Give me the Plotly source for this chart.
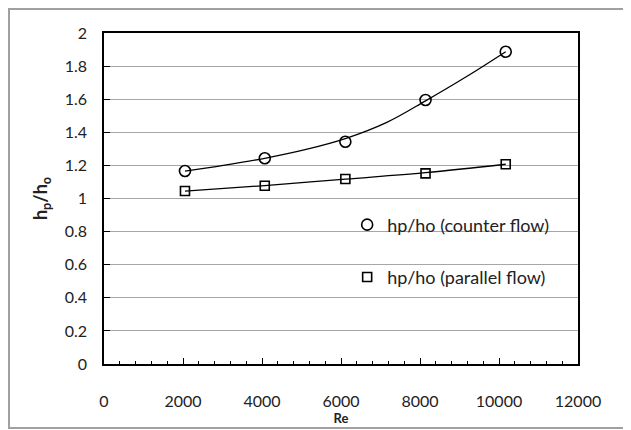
import plotly.graph_objects as go

# measured points
re_vals = [2050, 4070, 6110, 8140, 10170]
counter_flow = [1.166, 1.243, 1.343, 1.595, 1.887]
parallel_flow = [1.045, 1.077, 1.118, 1.152, 1.207]
counter_name = "hp/ho (counter flow)"
parallel_name = "hp/ho (parallel flow)"

# trend lines
counter_trend_re = [2050, 3020, 4070, 5090, 6110, 7160, 8140, 9180, 10170]
counter_trend = [1.166, 1.200, 1.243, 1.295, 1.362, 1.460, 1.590, 1.737, 1.887]
parallel_trend_re = [2050, 4070, 6110, 8140, 10170]
parallel_trend = [1.045, 1.078, 1.117, 1.156, 1.207]

FONT = "Lato"
# page body adds an 8px offset; compensate so the plot lands where the reference has it
OFF = 8
L, T, PW, PH = 104 - OFF, 33 - OFF, 474, 331
W, H = 631 - OFF, 430 - OFF

fig = go.Figure()

fig.add_trace(go.Scatter(x=counter_trend_re, y=counter_trend, mode="lines",
                         line=dict(color="black", width=1.3, shape="spline", smoothing=1.0),
                         showlegend=False, hoverinfo="skip"))
fig.add_trace(go.Scatter(x=parallel_trend_re, y=parallel_trend, mode="lines",
                         line=dict(color="black", width=1.3, shape="spline", smoothing=1.0),
                         showlegend=False, hoverinfo="skip"))

fig.add_trace(go.Scatter(x=re_vals, y=counter_flow, mode="markers", name=counter_name, legendgroup="a",
                         marker=dict(symbol="circle-open", size=11, color="black", line=dict(width=1.6))))
fig.add_trace(go.Scatter(x=re_vals, y=parallel_flow, mode="markers", name=parallel_name, legendgroup="b",
                         marker=dict(symbol="square-open", size=9, color="black", line=dict(width=1.6))))

fig.update_layout(
    width=W, height=H,
    margin=dict(l=L, r=W - L - PW, t=T, b=H - T - PH, autoexpand=False),
    paper_bgcolor="white", plot_bgcolor="white",
    font=dict(family=FONT, size=16, color="#222"),
    showlegend=True,
    legend=dict(x=0.513, xanchor="left", y=0.476, yanchor="top", bgcolor="rgba(0,0,0,0)",
                font=dict(family=FONT, size=18, color="#222"), tracegroupgap=26, itemwidth=30,
                traceorder="grouped"),
    xaxis=dict(range=[0, 12000], dtick=2000, tick0=0, tickformat="d", automargin=False,
               showgrid=False, zeroline=False,
               showline=True, linecolor="black", linewidth=1.5, mirror=True,
               ticks="inside", ticklen=6, tickwidth=1.3, tickcolor="black",
               minor=dict(dtick=400, ticks="inside", ticklen=3, tickwidth=1.3, tickcolor="black", showgrid=False),
               ticklabelstandoff=22,
               title=dict(text="<b>Re</b>", font=dict(family=FONT, size=13, color="#222"), standoff=4)),
    yaxis=dict(range=[0, 2], dtick=0.2, tick0=0, automargin=False,
               showgrid=True, gridcolor="#a6a6a6", gridwidth=1.3, zeroline=False,
               showline=True, linecolor="black", linewidth=1.5, mirror=True,
               ticks="inside", ticklen=6, tickwidth=1.3, tickcolor="black",
               ticklabelstandoff=12,
               title=dict(text="<b>h<sub>p</sub>/h<sub>o</sub></b>", font=dict(family=FONT, size=18, color="#222"), standoff=12)),
)

fig.add_shape(type="rect", xref="paper", yref="paper",
              x0=-(L - 1) / PW, x1=(627 - OFF - L) / PW, y0=-(428 - OFF - T - PH) / PH, y1=1 + (T - 1) / PH,
              line=dict(color="#a0a0a0", width=2), fillcolor="rgba(0,0,0,0)", layer="below")

fig.write_html("out.html")
